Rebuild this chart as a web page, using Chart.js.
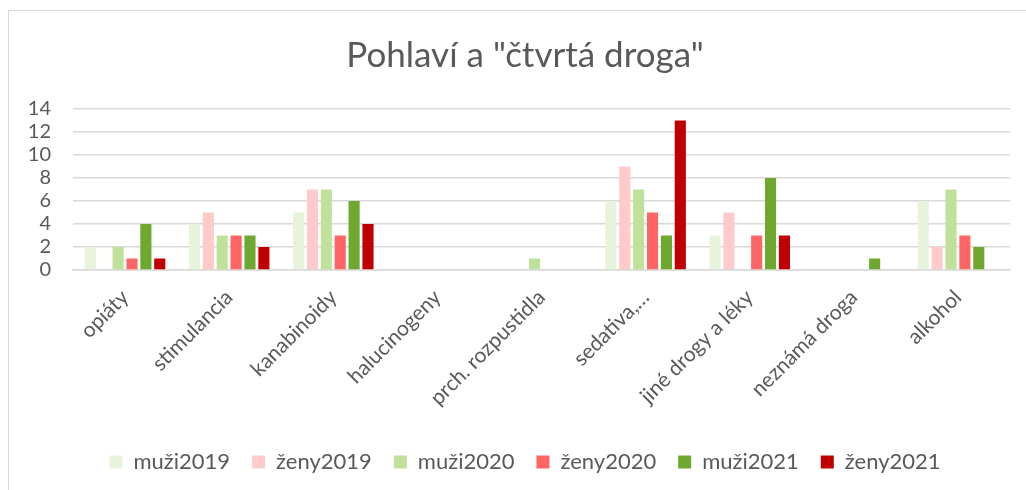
<!DOCTYPE html>
<html>
<head>
<meta charset="utf-8">
<script src="https://cdn.jsdelivr.net/npm/chart.js@4"></script>
<style>
  html, body { margin: 0; padding: 0; background: #fff; }
  #wrap { position: relative; width: 1026px; height: 490px; overflow: hidden; }
  #frame { position: absolute; left: 8px; top: 10px; width: 1040px; height: 500px; border: 1px solid #d9d9d9; box-sizing: border-box; }
  #box { position: absolute; left: 0; top: 0; width: 1026px; height: 490px; }
</style>
</head>
<body>
<div id="wrap">
  <div id="frame"></div>
  <div id="box"><canvas id="drugChart"></canvas></div>
</div>
<script>
// Pohlaví a "čtvrtá droga" — grouped bars

const categories = ['opiáty', 'stimulancia', 'kanabinoidy', 'halucinogeny', 'prch. rozpustidla',
                    'sedativa,…', 'jiné drogy a léky', 'neznámá droga', 'alkohol'];

const muzi2019 = [2, 4, 5, 0, 0, 6, 3, 0, 6];
const zeny2019 = [0, 5, 7, 0, 0, 9, 5, 0, 2];
const muzi2020 = [2, 3, 7, 0, 1, 7, 0, 0, 7];
const zeny2020 = [1, 3, 3, 0, 0, 5, 3, 0, 3];
const muzi2021 = [4, 3, 6, 0, 0, 3, 8, 1, 2];
const zeny2021 = [1, 2, 4, 0, 0, 13, 3, 0, 0];

const yTicks = [0, 2, 4, 6, 8, 10, 12, 14];

const TEXT = '#595959';
const GRID = '#d9d9d9';
const FONT = 'Lato, "Open Sans", sans-serif';

const series = [
  { label: 'muži2019', data: muzi2019, color: '#e8f3dc' },
  { label: 'ženy2019', data: zeny2019, color: '#ffcaca' },
  { label: 'muži2020', data: muzi2020, color: '#c0e199' },
  { label: 'ženy2020', data: zeny2020, color: '#ff6565' },
  { label: 'muži2021', data: muzi2021, color: '#6fa82f' },
  { label: 'ženy2021', data: zeny2021, color: '#c00000' },
];

// y scale is narrow (title/legend are shifted right), so don't clip its labels
const noLabelClip = {
  id: 'noLabelClip',
  beforeDraw(chart) {
    if (chart.scales.y) chart.scales.y._computeLabelArea = () => undefined;
  }
};

new Chart(document.getElementById('drugChart'), {
  type: 'bar',
  data: {
    labels: categories,
    datasets: series.map(s => ({
      label: s.label,
      data: s.data,
      backgroundColor: s.color,
      borderWidth: 0,
      categoryPercentage: 0.8,
      barPercentage: 0.8
    }))
  },
  options: {
    responsive: true,
    maintainAspectRatio: false,
    animation: false,
    // wider left padding shifts title + legend to the right like the original
    layout: { padding: { left: 40, right: 16, top: 0, bottom: 7 } },
    plugins: {
      title: {
        display: true,
        text: 'Pohlaví a "čtvrtá droga"',
        color: TEXT,
        font: { family: FONT, size: 35, weight: 'normal' },
        padding: { top: 35, bottom: 32 }
      },
      legend: {
        position: 'bottom',
        labels: {
          color: TEXT,
          font: { family: FONT, size: 22 },
          boxWidth: 13,
          boxHeight: 13,
          padding: 22
        }
      },
      tooltip: { enabled: false }
    },
    scales: {
      x: {
        grid: { display: false },
        border: { color: GRID, width: 1.5 },
        ticks: {
          color: TEXT,
          font: { family: FONT, size: 21 },
          minRotation: 45,
          maxRotation: 45,
          autoSkip: false,
          padding: 7
        },
        afterFit: scale => { scale.height = 159; }
      },
      y: {
        min: 0,
        max: 14,
        afterBuildTicks: scale => { scale.ticks = yTicks.map(v => ({ value: v })); },
        grid: { color: GRID, lineWidth: 1.5, drawTicks: false },
        border: { display: false },
        ticks: {
          color: TEXT,
          font: { family: FONT, size: 20 },
          padding: 22,
          autoSkip: false
        },
        afterFit: scale => { scale.width = 33; }
      }
    }
  },
  plugins: [noLabelClip]
});
</script>
</body>
</html>
